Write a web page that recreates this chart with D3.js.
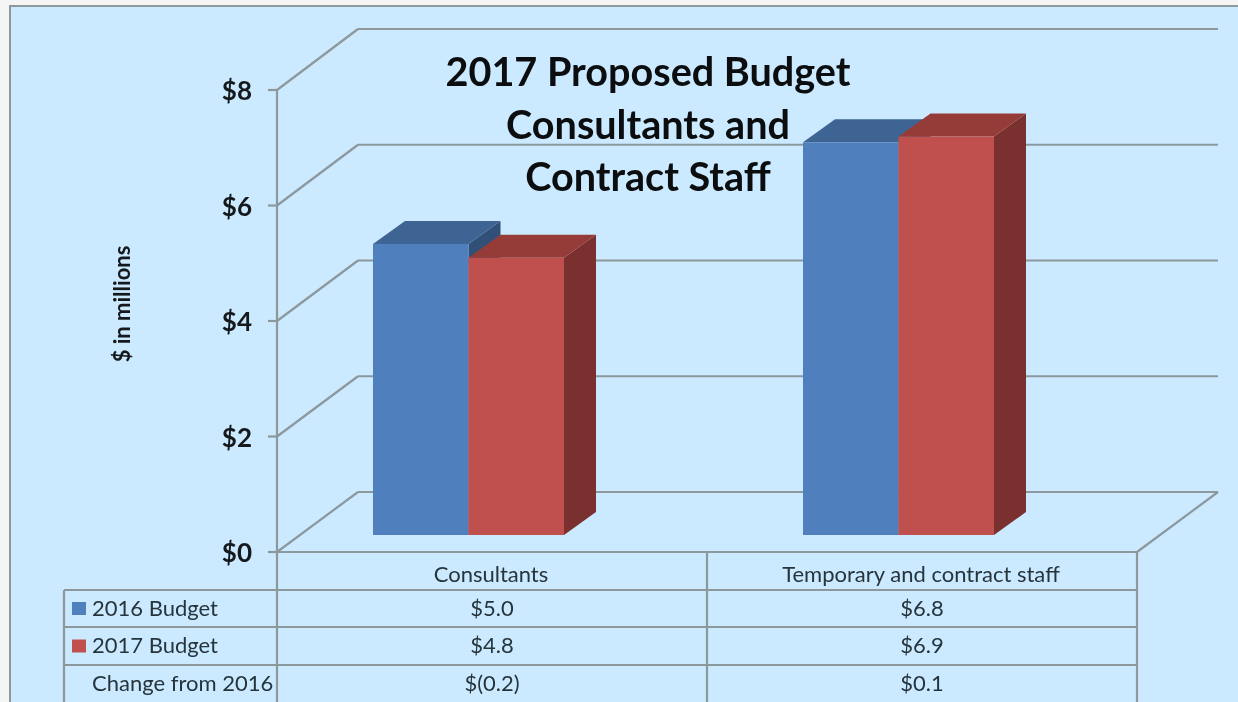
<!DOCTYPE html>
<html lang="en">
<head>
<meta charset="UTF-8">
<title>2017 Proposed Budget</title>
<script src="https://d3js.org/d3.v7.min.js"></script>
<style>
  html, body { margin: 0; padding: 0; background: #f5f5f5; overflow: hidden; }
  svg { display: block; font-family: Lato, "Open Sans", sans-serif; filter: blur(0.4px); }
</style>
</head>
<body>
<script>
// data
const categories = ["Consultants", "Temporary and contract staff"];
const seriesNames = ["2016 Budget", "2017 Budget"];
const budget2016 = [5.04, 6.8];   // bar heights
const budget2017 = [4.8, 6.9];
const row2016 = ["$5.0", "$6.8"];
const row2017 = ["$4.8", "$6.9"];
const rowChange = ["$(0.2)", "$0.1"];
const yTicks = [0, 2, 4, 6, 8];
const titleLines = ["2017 Proposed Budget", "Consultants and", "Contract Staff"];

const width = 1238, height = 702;
const lineColor = "#8d989d";
const frontColors = ["#4f7fbd", "#c0504d"];
const topColors = ["#3d6493", "#953c39"];
const sideColors = ["#305078", "#7a302e"];

const svg = d3.select("body").append("svg")
    .attr("width", width)
    .attr("height", height);

// panel
svg.append("rect").attr("x", 10).attr("y", 6).attr("width", 1240).attr("height", 710)
    .attr("fill", "#cbeaff").attr("stroke", lineColor).attr("stroke-width", 2);

// scales: front plane, back wall, and the plane the bar fronts sit on
const yFront = d3.scaleLinear().domain([0, 8]).range([552, 90]);
const yBack = d3.scaleLinear().domain([0, 8]).range([492, 29]);
const yBar = d3.scaleLinear().domain([0, 8]).range([535, 73]);
const xFront = d3.scaleBand().domain(categories).range([277, 1137]);
const xBar = d3.scaleBand().domain(categories).range([253.5, 1113.5]);
const xSeries = d3.scaleBand().domain(seriesNames).range([-95.5, 95.5]);

const x0 = xFront.range()[0], x1 = xFront.range()[1];
const depthX = 81, barDepthX = 32, barDepthY = 23;

const line = (x1, y1, x2, y2) => svg.append("line")
    .attr("x1", x1).attr("y1", y1).attr("x2", x2).attr("y2", y2)
    .attr("stroke", lineColor).attr("stroke-width", 2.2);

// walls: grid on back, diagonal on the side, tick on the axis
yTicks.forEach(t => {
    line(x0 + depthX, yBack(t), x1 + depthX, yBack(t));
    line(x0, yFront(t), x0 + depthX, yBack(t));
    line(x0 - 9, yFront(t), x0, yFront(t));
});
line(x0, yFront(8), x0, height);
line(x0, yFront(0), x1, yFront(0));
line(x1, yFront(0), x1 + depthX, yBack(0));

// tick labels
svg.selectAll(".tick-label").data(yTicks).enter().append("text")
    .attr("class", "tick-label")
    .attr("x", 252)
    .attr("y", d => yFront(d) + 10)
    .attr("text-anchor", "end")
    .attr("font-size", 26)
    .attr("font-weight", 700)
    .attr("fill", "#16191c")
    .text(d => "$" + d);

// y axis title
svg.append("text")
    .attr("transform", "translate(130,304) rotate(-90)")
    .attr("text-anchor", "middle")
    .attr("font-size", 22)
    .attr("font-weight", 700)
    .attr("fill", "#16191c")
    .text("$ in millions");

// bars, back to front: side and top first, then the front face
const bars = [];
categories.forEach((c, i) => {
    bars.push({ cat: c, s: 0, v: budget2016[i] });
    bars.push({ cat: c, s: 1, v: budget2017[i] });
});
const cx = d => xBar(d.cat) + xBar.bandwidth() / 2 + xSeries(seriesNames[d.s]);
const bw = xSeries.bandwidth();

const barG = svg.selectAll(".bar").data(bars).enter().append("g").attr("class", "bar");
barG.append("path")
    .attr("fill", d => sideColors[d.s])
    .attr("d", d => {
        const r = cx(d) + bw, t = yBar(d.v), b = yBar(0);
        return `M${r},${t}L${r + barDepthX},${t - barDepthY}L${r + barDepthX},${b - barDepthY}L${r},${b}Z`;
    });
barG.append("path")
    .attr("fill", d => topColors[d.s])
    .attr("d", d => {
        const l = cx(d), t = yBar(d.v);
        return `M${l},${t}L${l + barDepthX},${t - barDepthY}L${l + bw + barDepthX},${t - barDepthY}L${l + bw},${t}Z`;
    });
barG.append("rect")
    .attr("fill", d => frontColors[d.s])
    .attr("x", cx)
    .attr("y", d => yBar(d.v))
    .attr("width", bw)
    .attr("height", d => yBar(0) - yBar(d.v));

// title
svg.selectAll(".title").data(titleLines).enter().append("text")
    .attr("class", "title")
    .attr("x", 648)
    .attr("y", (d, i) => 86 + i * 52.5)
    .attr("text-anchor", "middle")
    .attr("font-size", 39.6)
    .attr("font-weight", 700)
    .attr("fill", "#0b0d0f")
    .text(d => d);

// data table
const rowY = [552, 590, 627, 665, 703];
const tableLeft = 64, tableMid = x0 + xFront.bandwidth();
rowY.slice(1).forEach(y => line(tableLeft, y, x1, y));
line(tableLeft, rowY[1], tableLeft, height);
line(tableMid, rowY[0], tableMid, height);
line(x1, rowY[0], x1, height);

const tableText = (x, row, txt, anchor) => svg.append("text")
    .attr("x", x)
    .attr("y", (rowY[row] + rowY[row + 1]) / 2 + (row === 0 ? 11 : 7))
    .attr("text-anchor", anchor)
    .attr("font-size", 22)
    .attr("fill", "#26343c")
    .text(txt);

const labelX = 92;
tableText(labelX, 1, seriesNames[0], "start");
tableText(labelX, 2, seriesNames[1], "start");
tableText(labelX, 3, "Change from 2016", "start");
categories.forEach((c, i) => {
    const mid = xFront(c) + xFront.bandwidth() / 2;
    tableText(mid - 1, 0, c, "middle");
    tableText(mid, 1, row2016[i], "middle");
    tableText(mid, 2, row2017[i], "middle");
    tableText(mid, 3, rowChange[i], "middle");
});

// legend keys in the table
seriesNames.forEach((s, i) => {
    svg.append("rect")
        .attr("x", 72).attr("y", (rowY[i + 1] + rowY[i + 2]) / 2 - 6.5)
        .attr("width", 14).attr("height", 13)
        .attr("fill", frontColors[i]);
});
</script>
</body>
</html>
